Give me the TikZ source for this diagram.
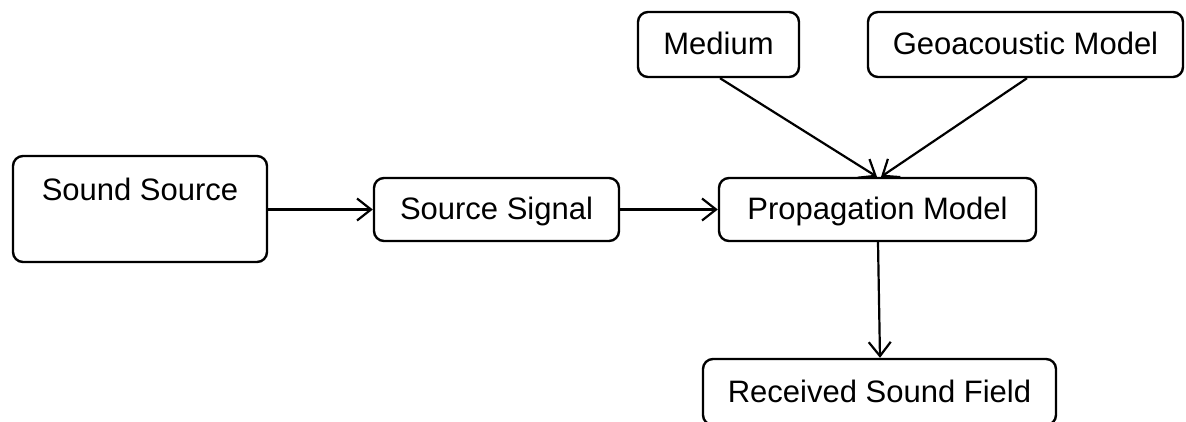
\documentclass[tikz,border=0pt]{standalone}
\usepackage{fontspec}
\setmainfont{Liberation Sans}
\usetikzlibrary{arrows.meta}
\begin{document}
\begin{tikzpicture}[x=1pt,y=-1pt,
  box/.style={draw=black, line width=2.4pt, rounded corners=10pt, inner sep=0pt,
    font=\fontsize{31}{31}\selectfont, text height=22pt, text depth=2pt},
  conn/.style={draw=black, line width=2.2pt, -{Straight Barb[length=14pt,width=22pt,line width=2.2pt]}}]
\useasboundingbox (0,0) rectangle (1186,421);
\node[box, minimum width=254pt, minimum height=106pt, text depth=40pt] (src) at (140,209) {Sound Source};
\node[box, minimum width=245pt, minimum height=63pt] (sig) at (496.5,209.5) {Source Signal};
\node[box, minimum width=317pt, minimum height=63pt] (prop) at (877.5,209.5) {Propagation Model};
\node[box, minimum width=161pt, minimum height=65pt] (med) at (718.5,44.5) {Medium};
\node[box, minimum width=315pt, minimum height=65pt] (geo) at (1025.5,44.5) {Geoacoustic Model};
\node[box, minimum width=353pt, minimum height=66pt] (rec) at (879.5,392) {Received Sound Field};
\draw[conn] (src.east |- sig) -- (sig.west);
\draw[conn] (sig.east) -- (prop.west);
\draw[conn] (med.south -| 720,0) -- (prop.north -| 877,0);
\draw[conn] (geo.south -| 1027,0) -- (prop.north -| 881,0);
\draw[conn] (prop.south -| 878,0) -- (rec.north -| 880,0);
\end{tikzpicture}
\end{document}
